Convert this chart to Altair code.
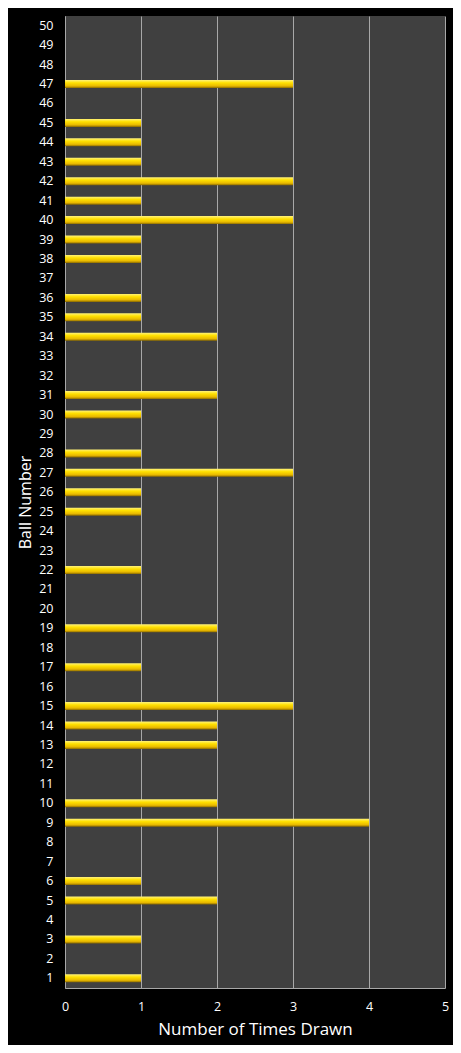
import altair as alt
import pandas as pd

ball_numbers = [str(n) for n in range(1, 51)]
drawn_balls = [1, 3, 5, 6, 9, 10, 13, 14, 15, 17, 19, 22, 25, 26, 27, 28, 30, 31,
               34, 35, 36, 38, 39, 40, 41, 42, 43, 44, 45, 47]
times_drawn = [1, 1, 2, 1, 4, 2, 2, 2, 3, 1, 2, 1, 1, 1, 3, 1, 1, 2,
               2, 1, 1, 1, 1, 3, 1, 3, 1, 1, 1, 3]
x_ticks = [0, 1, 2, 3, 4, 5]

df = pd.DataFrame({"Ball": [str(b) for b in drawn_balls], "Count": times_drawn})

gold = {
    "gradient": "linear",
    "x1": 0, "y1": 0, "x2": 0, "y2": 1,
    "stops": [
        {"offset": 0, "color": "#fff27a"},
        {"offset": 0.35, "color": "#ffe000"},
        {"offset": 0.75, "color": "#e8b800"},
        {"offset": 1, "color": "#8a6a00"},
    ],
}

font = "Open Sans"

chart = alt.Chart(df).mark_bar(size=8, color=gold).encode(
    x=alt.X(
        "Count:Q",
        scale=alt.Scale(domain=[0, 5], nice=False),
        axis=alt.Axis(
            title="Number of Times Drawn",
            values=x_ticks,
            format="d",
            grid=True,
            gridColor="#a8a8a8",
            gridWidth=1,
            ticks=False,
            domainColor="#a8a8a8",
            labelColor="white",
            labelFontSize=12.5,
            labelPadding=12,
            labelFlush=False,
            labelFont=font,
            titleColor="white",
            titleFontSize=17,
            titleFontWeight="normal",
            titleFont=font,
            titlePadding=9,
        ),
    ),
    y=alt.Y(
        "Ball:O",
        scale=alt.Scale(domain=ball_numbers[::-1], paddingInner=0.0, paddingOuter=0.0),
        axis=alt.Axis(
            title="Ball Number",
            ticks=False,
            grid=False,
            domainColor="#a8a8a8",
            labelColor="white",
            labelFontSize=12.5,
            labelPadding=12,
            labelFont=font,
            titleColor="white",
            titleFontSize=16,
            titleFontWeight="normal",
            titleFont=font,
            titlePadding=5,
        ),
    ),
).properties(
    width=380,
    height=972,
    background="black",
    padding={"left": 57, "top": 8, "right": 8, "bottom": 57},
    autosize=alt.AutoSizeParams(type="none"),
).configure_view(
    fill="#404040",
    stroke=None,
)

chart.save("out.html", embed_options={"renderer": "svg", "actions": False})
